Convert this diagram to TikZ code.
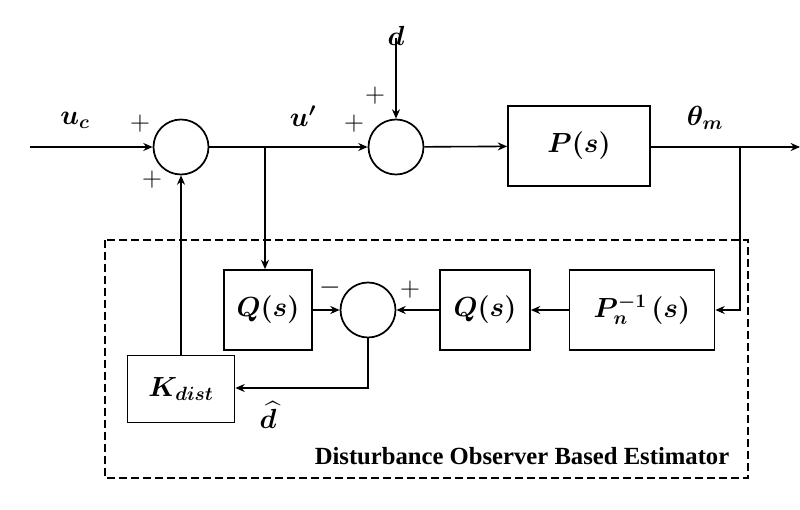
\documentclass[tikz,border=0pt]{standalone}
\usepackage{fontspec}
\usepackage{amsmath,bm}
\newfontfamily\capfont{Liberation Serif}
\usetikzlibrary{arrows.meta}
\begin{document}
\begin{tikzpicture}[x=0.75pt,y=-0.75pt,line width=1.2pt,
  >={Stealth[length=7pt,width=6pt]},
  blk/.style={draw,line width=1.3pt,minimum height=0.75pt*80,inner sep=0pt,font=\fontsize{21}{24}\selectfont},
  sum/.style={draw,line width=1.3pt,circle,minimum size=0.75pt*55,inner sep=0pt},
  lab/.style={font=\fontsize{21}{24}\selectfont}]
\useasboundingbox (0,0) rectangle (800,510);
\node[sum] (s1) at (181,147) {};
\node[sum] (s2) at (396,147) {};
\node[sum] (s3) at (368,310) {};
\node[blk,minimum width=0.75pt*142] (P) at (579,146) {$\bm{P(s)}$};
\node[blk,minimum width=0.75pt*145] (Pn) at (642,310) {$\bm{P_n^{-1}\,(s)}$};
\node[blk,minimum width=0.75pt*90] (Q2) at (485,310) {$\bm{Q(s)}$};
\node[blk,minimum width=0.75pt*88] (Q1) at (268,310) {$\bm{Q(s)}$};
\node[blk,minimum width=0.75pt*107,minimum height=0.75pt*67] (K) at (181,389) {$\bm{K_{dist}}$};
\coordinate (in) at (30,147);
\coordinate (dtop) at (396,38);
\coordinate (out) at (800,147);
\coordinate (b1) at (740,147);
\coordinate (b1d) at (740,310);
\coordinate (b2) at (265,147);
\coordinate (dh) at (368,388);
\draw[->] (in) -- (s1);
\draw[->] (s1) -- (s2);
\draw[->] (b2) -- (b2 |- Q1.north);
\draw[->] (dtop) -- (s2);
\draw[->] (s2) -- (P);
\draw[->] (P.east |- out) -- (out);
\draw[->] (b1) -- (b1d) -- (Pn);
\draw[->] (Pn) -- (Q2);
\draw[->] (Q2) -- (s3);
\draw[->] (Q1) -- (s3);
\draw[->] (s3) -- (dh) -- (K.east |- dh);
\draw[->] (K) -- (s1);
\draw[dash pattern=on 6pt off 3pt,line width=1.1pt] (105,240) rectangle (748,478);
\node[lab] at (75,120) {$\bm{u_c}$};
\node[lab] at (140,124) {$+$};
\node[lab] at (152,180) {$+$};
\node[lab] at (303,116) {$\bm{u'}$};
\node[lab] at (396,36) {$\bm{d}$};
\node[lab] at (375,96) {$+$};
\node[lab] at (354,124) {$+$};
\node[lab] at (705,118) {$\bm{\theta_m}$};
\node[lab] at (410,290) {$+$};
\node[lab] at (330,288) {$-$};
\node[lab] at (268,415) {$\bm{\widehat{d}}$};
\node[font=\capfont\bfseries\fontsize{18.5}{22}\selectfont] at (522,456) {Disturbance Observer Based Estimator};
\end{tikzpicture}
\end{document}
